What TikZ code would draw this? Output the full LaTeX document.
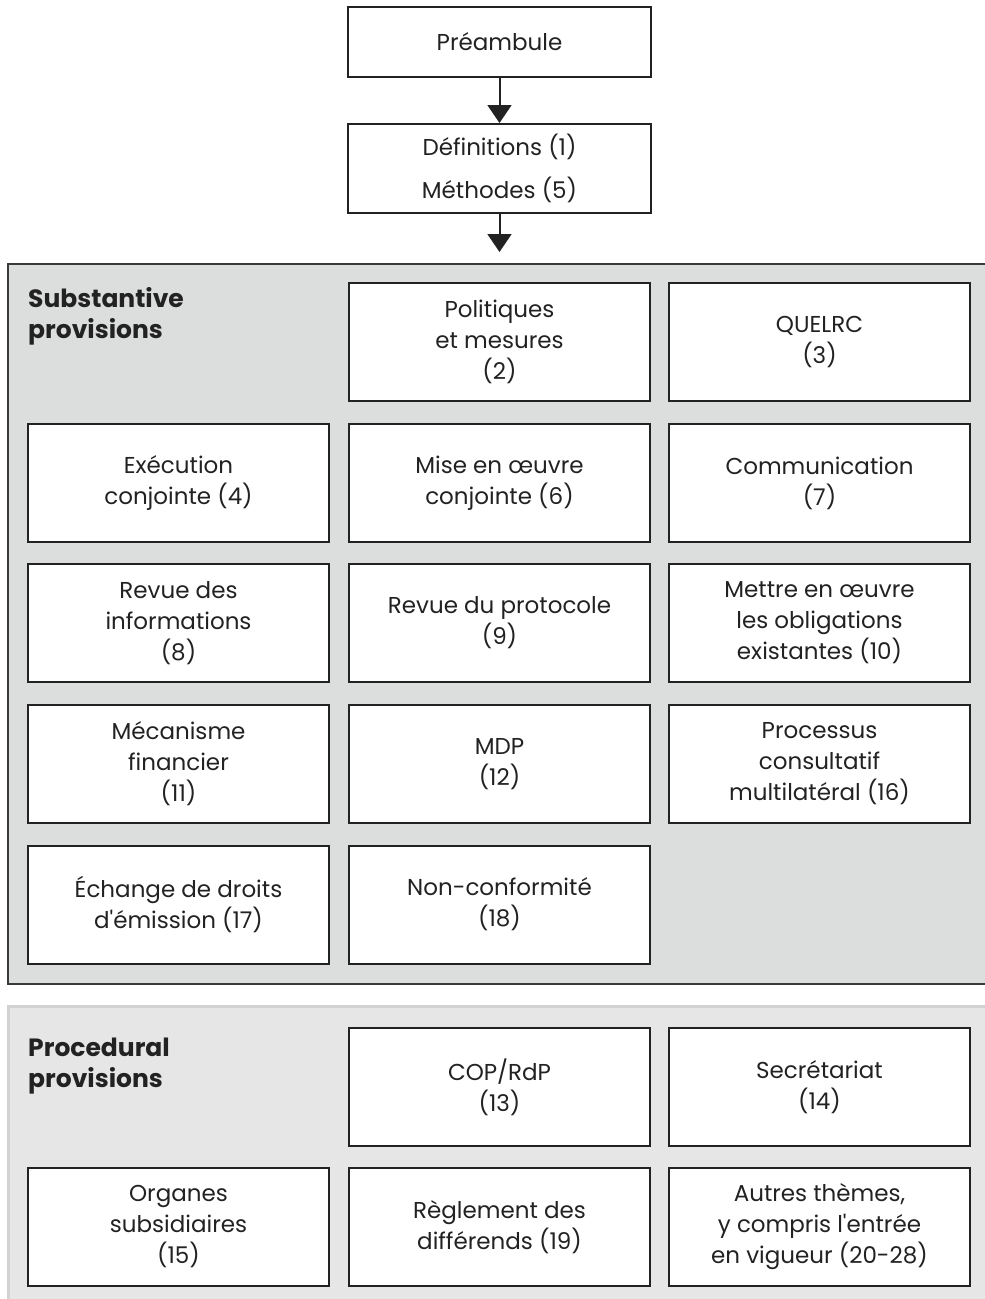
\documentclass[tikz,border=0pt]{standalone}
\usepackage{fontspec}
\setmainfont{Poppins}
\usetikzlibrary{arrows.meta}
\definecolor{ink}{HTML}{222222}
\definecolor{panelA}{HTML}{DCDDDD}
\definecolor{panelAline}{HTML}{3A3A3A}
\definecolor{panelB}{HTML}{E6E6E6}
\definecolor{panelBline}{HTML}{D2D2D2}
\begin{document}
\begin{tikzpicture}[x=1pt,y=-1pt,
  every node/.style={text=ink},
  cell/.style={draw=ink, line width=2pt, fill=white, minimum width=301pt,
    minimum height=118pt, inner sep=0pt, align=center,
    font=\fontsize{23}{31}\selectfont},
  headbox/.style={cell, minimum width=303pt},
  heading/.style={anchor=north west, align=left, inner sep=0pt,
    font=\fontsize{25}{31}\selectfont\bfseries},
  flow/.style={draw=ink, line width=2pt, -{Triangle[width=24pt,length=18pt]}}]
\useasboundingbox (0,0) rectangle (985,1299);

% panels
\path[fill=panelA, draw=panelAline, line width=2.5pt] (8,264) rectangle (1000,984);
\path[fill=panelB, draw=panelBline, line width=3pt] (8,1006) rectangle (1000,1320);

% top sequence
\node[headbox, minimum height=70pt] (pre) at (499.5,42) {Préambule};
\node[headbox, minimum height=89pt, font=\fontsize{23}{43}\selectfont] (def) at (499.5,168.5) {Définitions (1)\\Méthodes (5)};
\coordinate (sub) at (499.5,252);
\draw[flow] (pre) -- (def);
\draw[flow] (def) -- (sub);

% substantive provisions
\node[heading] (hA) at (28,287) {Substantive\\provisions};
\node[cell] (a2) at (499.5,342) {Politiques\\et mesures\\(2)};
\node[cell] (a3) at (819.5,342) {QUELRC\\(3)};
\node[cell] (a4) at (178.5,483) {Exécution\\conjointe (4)};
\node[cell] (a6) at (499.5,483) {Mise en œuvre\\conjointe (6)};
\node[cell] (a7) at (819.5,483) {Communication\\(7)};
\node[cell] (a8) at (178.5,623) {Revue des\\informations\\(8)};
\node[cell] (a9) at (499.5,623) {Revue du protocole\\(9)};
\node[cell] (a10) at (819.5,623) {Mettre en œuvre\\les obligations\\existantes (10)};
\node[cell] (a11) at (178.5,764) {Mécanisme\\financier\\(11)};
\node[cell] (a12) at (499.5,764) {MDP\\(12)};
\node[cell] (a16) at (819.5,764) {Processus\\consultatif\\multilatéral (16)};
\node[cell] (a17) at (178.5,904.5) {Échange de droits\\d\textquotesingle émission (17)};
\node[cell] (a18) at (499.5,904.5) {Non-conformité\\(18)};

% procedural provisions
\node[heading] (hB) at (28,1038) {Procedural\\provisions};
\node[cell] (b13) at (499.5,1087) {COP/RdP\\(13)};
\node[cell] (b14) at (819.5,1087) {Secrétariat\\(14)};
\node[cell] (b15) at (178.5,1227) {Organes\\subsidiaires\\(15)};
\node[cell] (b19) at (499.5,1227) {Règlement des\\différends (19)};
\node[cell] (b20) at (819.5,1227) {Autres thèmes,\\y compris l\textquotesingle entrée\\en vigueur (20-28)};
\end{tikzpicture}
\end{document}
